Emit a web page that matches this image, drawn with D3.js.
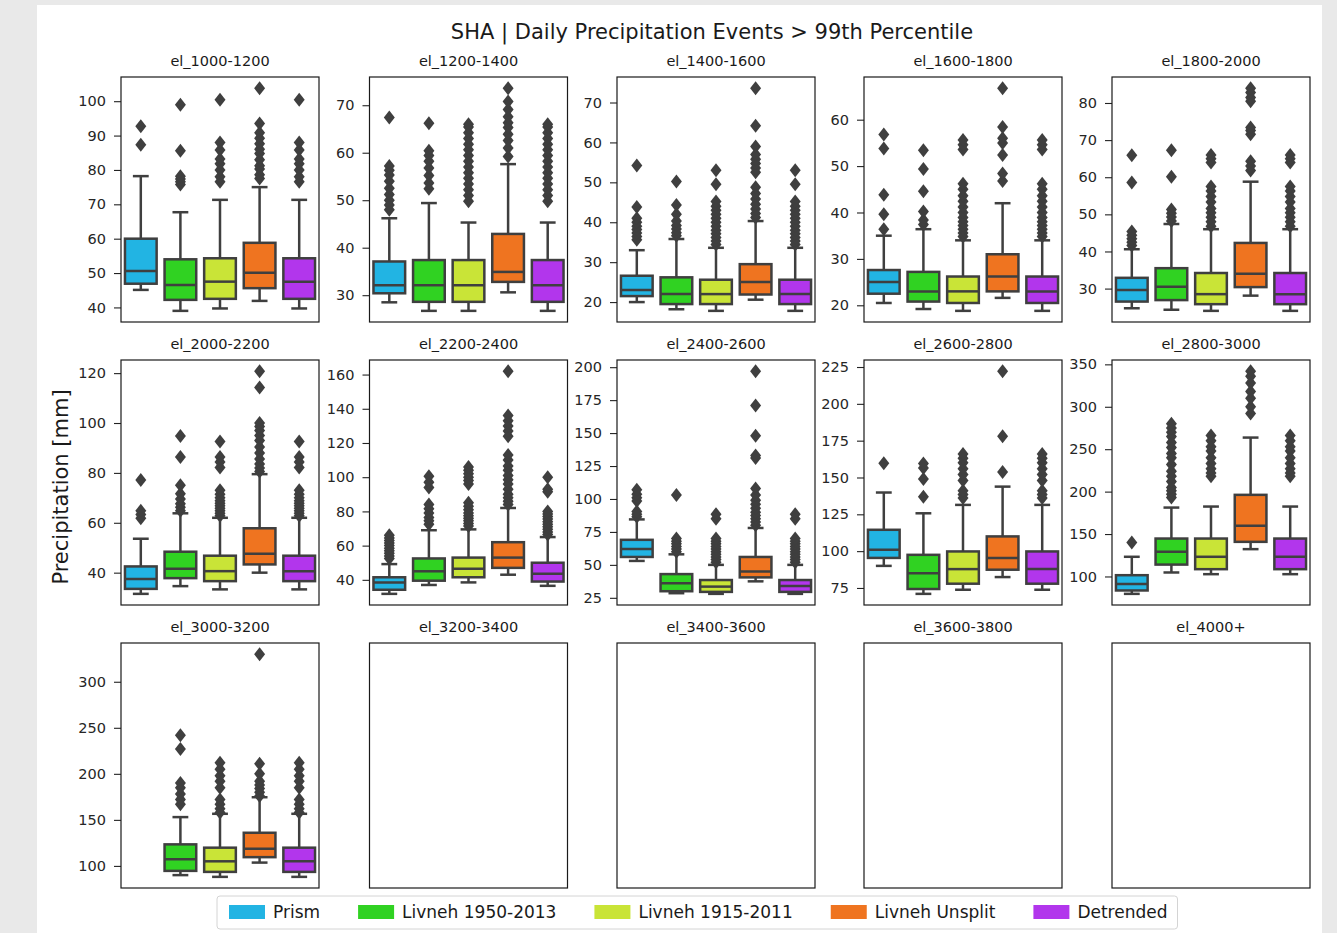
<!DOCTYPE html>
<html>
<head>
<meta charset="utf-8">
<script src="https://cdn.jsdelivr.net/npm/d3@7"></script>
<style>
  body { margin: 0; background: #e9e9e9; font-family: "DejaVu Sans", sans-serif; }
</style>
</head>
<body>
<svg id="chart" width="1337" height="933"></svg>
<script>
// Series, colours, panel titles
const seriesNames = ["Prism", "Livneh 1950-2013", "Livneh 1915-2011", "Livneh Unsplit", "Detrended"];
const seriesColors = ["#22b4e3", "#30d222", "#c9e437", "#ef7420", "#b236ec"];
const panelTitles = ["el_1000-1200", "el_1200-1400", "el_1400-1600", "el_1600-1800", "el_1800-2000",
  "el_2000-2200", "el_2200-2400", "el_2400-2600", "el_2600-2800", "el_2800-3000",
  "el_3000-3200", "el_3200-3400", "el_3400-3600", "el_3600-3800", "el_4000+"];

// Box stats per series: [whisker low, q1, median, q3, whisker high]
const box_1000_1200 = [[45.1, 46.9, 50.6, 60.0, 78.2], [39.0, 42.2, 46.5, 54.0, 67.7], [39.7, 42.5, 47.5, 54.3, 71.3], [41.9, 45.6, 50.1, 58.8, 75.0], [39.7, 42.5, 47.5, 54.3, 71.3]];
const fliers_1000_1200 = [[87.3, 92.7], [75.8, 76.6, 77.4, 78.2, 85.6, 99.0], [76.6, 78.0, 80.0, 81.8, 83.2, 85.8, 88.0, 100.4], [77.5, 78.6, 80.3, 81.2, 83.0, 84.8, 86.0, 87.6, 89.2, 90.8, 93.5, 103.8], [76.6, 78.0, 80.0, 81.8, 83.2, 85.8, 88.0, 100.4]];
const ticks_1000_1200 = [40, 50, 60, 70, 80, 90, 100];

const box_1200_1400 = [[28.5, 30.4, 32.1, 37.1, 46.2], [26.7, 28.6, 32.1, 37.4, 49.4], [26.7, 28.6, 32.1, 37.4, 45.3], [30.6, 32.8, 34.9, 42.9, 57.6], [26.7, 28.6, 32.1, 37.4, 45.3]];
const fliers_1200_1400 = [[48.0, 49.0, 50.0, 51.2, 52.5, 54.0, 55.3, 56.3, 57.2, 67.4], [52.4, 53.6, 55.2, 56.8, 58.2, 59.4, 60.4, 66.2], [49.8, 51.0, 52.2, 53.4, 54.6, 55.8, 57.0, 58.2, 59.4, 60.6, 61.8, 63.0, 64.2, 65.4, 66.0], [59.2, 61.0, 62.6, 63.9, 65.3, 66.3, 67.6, 69.1, 70.8, 73.6], [49.8, 51.0, 52.2, 53.4, 54.6, 55.8, 57.0, 58.2, 59.4, 60.6, 61.8, 63.0, 64.2, 65.4, 66.0]];
const ticks_1200_1400 = [30, 40, 50, 60, 70];

const box_1400_1600 = [[20.0, 21.5, 23.0, 26.6, 33.0], [18.2, 19.5, 22.0, 26.2, 35.8], [17.8, 19.5, 22.0, 25.6, 33.6], [20.6, 21.9, 25.0, 29.5, 40.3], [17.8, 19.5, 22.0, 25.6, 33.6]];
const fliers_1400_1600 = [[35.6, 36.4, 37.3, 38.2, 39.0, 40.0, 41.0, 43.8, 54.2], [36.6, 37.4, 38.3, 39.2, 40.3, 42.0, 44.3, 50.2], [34.4, 35.3, 36.2, 37.1, 38.0, 39.0, 40.0, 41.0, 42.0, 43.0, 44.0, 45.2, 49.5, 53.0], [41.2, 42.2, 43.3, 44.5, 45.8, 47.2, 48.8, 52.5, 53.6, 54.7, 55.8, 57.0, 59.0, 64.2, 73.6], [34.4, 35.3, 36.2, 37.1, 38.0, 39.0, 40.0, 41.0, 42.0, 43.0, 44.0, 45.2, 49.5, 53.0]];
const ticks_1400_1600 = [20, 30, 40, 50, 60, 70];

const box_1600_1800 = [[20.5, 22.5, 25.0, 27.6, 35.0], [19.2, 20.8, 23.0, 27.2, 36.4], [18.8, 20.5, 23.0, 26.2, 34.0], [21.6, 23.0, 26.2, 31.0, 42.0], [18.8, 20.5, 23.0, 26.2, 34.0]];
const fliers_1600_1800 = [[36.4, 39.6, 43.8, 53.8, 56.8], [37.4, 38.4, 40.2, 44.6, 49.4, 53.4], [34.8, 35.6, 36.4, 37.2, 38.0, 38.9, 40.0, 41.2, 42.4, 43.6, 45.0, 46.2, 53.6, 54.6, 55.6], [46.8, 48.4, 52.4, 55.0, 56.0, 58.4, 66.8], [34.8, 35.6, 36.4, 37.2, 38.0, 38.9, 40.0, 41.2, 42.4, 43.6, 45.0, 46.2, 53.6, 54.6, 55.6]];
const ticks_1600_1800 = [20, 30, 40, 50, 60];

const box_1800_2000 = [[24.7, 26.5, 29.6, 32.9, 40.6], [24.3, 26.9, 30.5, 35.5, 47.4], [24.0, 25.8, 28.5, 34.2, 46.0], [28.1, 30.4, 34.0, 42.3, 58.8], [24.0, 25.8, 28.5, 34.2, 46.0]];
const fliers_1800_2000 = [[41.6, 42.5, 43.4, 44.4, 45.4, 58.6, 65.9], [48.2, 49.3, 50.3, 51.3, 60.1, 67.3], [46.8, 48.0, 49.2, 50.4, 51.6, 53.3, 54.8, 56.3, 57.5, 64.0, 65.0, 66.0], [61.8, 63.0, 64.3, 71.6, 72.6, 73.4, 80.5, 81.5, 82.8, 84.0], [46.8, 48.0, 49.2, 50.4, 51.6, 53.3, 54.8, 56.3, 57.5, 64.0, 65.0, 66.0]];
const ticks_1800_2000 = [30, 40, 50, 60, 70, 80];

const box_2000_2200 = [[31.5, 33.5, 37.5, 42.5, 53.6], [34.6, 37.8, 41.6, 48.4, 63.8], [33.3, 36.6, 40.6, 46.8, 62.0], [40.0, 43.3, 47.6, 57.8, 79.5], [33.3, 36.6, 40.6, 46.8, 62.0]];
const fliers_2000_2200 = [[61.8, 63.3, 64.8, 77.2], [64.8, 66.2, 67.6, 69.5, 71.6, 75.0, 86.4, 94.8], [62.8, 63.8, 64.8, 65.8, 66.8, 67.8, 68.8, 70.0, 71.4, 73.0, 82.2, 84.4, 86.4, 92.6], [80.6, 82.0, 83.6, 85.6, 88.0, 90.4, 93.0, 95.0, 97.0, 98.6, 100.0, 114.2, 120.8], [62.8, 63.8, 64.8, 65.8, 66.8, 67.8, 68.8, 70.0, 71.4, 73.0, 82.2, 84.4, 86.4, 92.6]];
const ticks_2000_2200 = [40, 60, 80, 100, 120];

const box_2200_2400 = [[31.8, 34.2, 38.5, 41.5, 49.2], [37.0, 39.5, 45.0, 52.5, 69.0], [38.5, 41.5, 46.5, 53.0, 69.5], [43.0, 47.0, 53.0, 62.0, 82.0], [36.5, 39.0, 43.5, 50.0, 65.0]];
const fliers_2200_2400 = [[52.5, 54.0, 55.5, 57.0, 58.5, 60.0, 61.5, 63.0, 64.5, 66.0], [72.5, 74.5, 76.5, 79.0, 81.5, 84.0, 94.0, 97.0, 100.5], [71.5, 73.0, 74.5, 76.0, 77.5, 79.0, 81.0, 83.0, 85.0, 96.0, 98.0, 100.0, 102.0, 104.0, 106.0], [84, 86, 88, 90, 93, 96, 98.5, 101, 104, 106.5, 110, 113, 124, 127, 130, 133, 136, 162], [66.5, 68, 69.5, 71, 72.5, 74, 75.5, 77, 78.5, 80, 91.5, 93, 100]];
const ticks_2200_2400 = [40, 60, 80, 100, 120, 140, 160];

const box_2400_2600 = [[53.0, 56.0, 62.0, 69.0, 84.5], [28.5, 30.0, 36.0, 43.0, 58.0], [28.0, 29.5, 33.5, 38.5, 50.0], [37.5, 40.5, 45.0, 56.0, 78.0], [28.0, 29.5, 34.0, 38.5, 50.0]];
const fliers_2400_2600 = [[86.5, 88.5, 90.5, 98.5, 101, 103.5, 107], [60, 62, 64, 66, 68, 70, 103], [52, 54, 56, 58, 60, 62, 64, 66, 68, 70, 85, 88.5], [80, 82.5, 85, 87.5, 90, 93, 96, 99, 103, 108, 131, 133, 148, 171, 197], [52, 54, 56, 58, 60, 62, 64, 66, 68, 70, 85, 88.5]];
const ticks_2400_2600 = [25, 50, 75, 100, 125, 150, 175, 200];

const box_2600_2800 = [[90.0, 95.4, 101.0, 114.5, 139.8], [71.0, 74.3, 85.0, 97.5, 125.7], [73.8, 77.9, 87.8, 99.8, 131.4], [82.4, 87.4, 95.3, 110.0, 143.8], [73.8, 77.9, 87.8, 99.8, 131.4]];
const fliers_2600_2800 = [[159.6], [137.0, 149.0, 156.5, 159.5], [136.0, 138.5, 141.0, 148.0, 152.0, 156.0, 160.0, 163.0, 166.0], [153.8, 178.0, 222.2], [136.0, 138.5, 141.0, 148.0, 152.0, 156.0, 160.0, 163.0, 166.0]];
const ticks_2600_2800 = [75, 100, 125, 150, 175, 200, 225];

const box_2800_3000 = [[79.5, 83.5, 91.0, 101.5, 123.2], [104.7, 114.0, 129.0, 144.7, 181.2], [102.7, 108.6, 123.2, 144.7, 182.4], [132.2, 140.8, 159.7, 196.2, 263.7], [102.7, 108.6, 123.2, 144.7, 182.4]];
const fliers_2800_3000 = [[140.0], [193, 197, 201, 205, 212, 218, 224, 232, 240, 245, 252, 258, 265, 270, 275, 280], [218, 222, 227, 233, 240, 248, 253, 260, 266], [292, 300, 310, 318, 328, 336, 342], [218, 222, 227, 233, 240, 248, 253, 260, 266]];
const ticks_2800_3000 = [100, 150, 200, 250, 300, 350];

const box_3000_3200 = [null, [90.0, 94.6, 107.2, 123.4, 153.0], [88.1, 93.5, 105.0, 119.8, 156.6], [103.6, 109.5, 118.7, 136.0, 174.6], [88.1, 93.5, 105.0, 119.8, 156.6]];
const fliers_3000_3200 = [[], [167, 172, 178, 185, 190, 227, 242], [158, 162, 167, 172, 185, 192, 198, 205, 212], [176, 180, 184, 188, 192, 200, 211, 330], [158, 162, 167, 172, 185, 192, 198, 205, 212]];
const ticks_3000_3200 = [100, 150, 200, 250, 300];

const panelBoxes = [box_1000_1200, box_1200_1400, box_1400_1600, box_1600_1800, box_1800_2000,
  box_2000_2200, box_2200_2400, box_2400_2600, box_2600_2800, box_2800_3000, box_3000_3200];
const panelFliers = [fliers_1000_1200, fliers_1200_1400, fliers_1400_1600, fliers_1600_1800, fliers_1800_2000,
  fliers_2000_2200, fliers_2200_2400, fliers_2400_2600, fliers_2600_2800, fliers_2800_3000, fliers_3000_3200];
const panelTicks = [ticks_1000_1200, ticks_1200_1400, ticks_1400_1600, ticks_1600_1800, ticks_1800_2000,
  ticks_2000_2200, ticks_2200_2400, ticks_2400_2600, ticks_2600_2800, ticks_2800_3000, ticks_3000_3200];

// Layout
const svg = d3.select("#chart");
const colX = [121, 369.5, 617, 864, 1112];
const rowY = [77, 360, 643];
const pw = 198, ph = 245;
const lineGray = "#3f3f3f";

svg.append("rect")
  .attr("x", 37).attr("y", 5)
  .attr("width", 1285).attr("height", 928)
  .attr("fill", "#ffffff");

// Title and shared y label
svg.append("text")
  .attr("x", 712).attr("y", 39)
  .attr("text-anchor", "middle")
  .attr("font-size", "21px")
  .attr("fill", "#1a1a1a")
  .text("SHA | Daily Precipitation Events > 99th Percentile");

svg.append("text")
  .attr("transform", "translate(68,487) rotate(-90)")
  .attr("text-anchor", "middle")
  .attr("font-size", "21px")
  .attr("fill", "#1a1a1a")
  .text("Precipitation [mm]");

// diamond flier marker
const diamond = d3.path();
diamond.moveTo(0, -7); diamond.lineTo(5.5, 0); diamond.lineTo(0, 7); diamond.lineTo(-5.5, 0); diamond.closePath();

panelTitles.forEach((title, i) => {
  const g = svg.append("g")
    .attr("transform", `translate(${colX[i % 5]},${rowY[Math.floor(i / 5)]})`);

  g.append("text")
    .attr("x", pw / 2).attr("y", -11)
    .attr("text-anchor", "middle")
    .attr("font-size", "14.5px")
    .attr("fill", "#1a1a1a")
    .text(title);

  const boxes = panelBoxes[i];
  if (boxes) {
    const fliers = panelFliers[i];
    const all = boxes.flatMap((b, k) => b ? b.concat(fliers[k]) : []);
    const [lo, hi] = d3.extent(all);
    const pad = (hi - lo) * 0.05;

    const y = d3.scaleLinear().domain([lo - pad, hi + pad]).range([ph, 0]);
    const x = d3.scaleLinear().domain([-0.5, 4.5]).range([0, pw]);
    const bw = (x(1) - x(0)) * 0.8;
    const cw = bw * 0.5;

    const axis = g.append("g")
      .call(d3.axisLeft(y).tickValues(panelTicks[i]).tickSize(7).tickPadding(8));
    axis.select(".domain").remove();
    axis.selectAll(".tick line").attr("stroke", "#222").attr("stroke-width", 1.1);
    axis.selectAll(".tick text")
      .attr("font-size", "14.5px")
      .attr("font-family", "DejaVu Sans, sans-serif")
      .attr("fill", "#262626");

    boxes.forEach((b, k) => {
      if (!b) return;
      const [wl, q1, med, q3, wh] = b;
      const cx = x(k);
      const bg = g.append("g");

      // whiskers
      bg.selectAll("line.whisker")
        .data([[wl, q1], [q3, wh]])
        .join("line")
        .attr("class", "whisker")
        .attr("x1", cx).attr("x2", cx)
        .attr("y1", d => y(d[0])).attr("y2", d => y(d[1]))
        .attr("stroke", lineGray).attr("stroke-width", 2.5);

      // caps
      bg.selectAll("line.cap")
        .data([wl, wh])
        .join("line")
        .attr("class", "cap")
        .attr("x1", cx - cw / 2).attr("x2", cx + cw / 2)
        .attr("y1", d => y(d)).attr("y2", d => y(d))
        .attr("stroke", lineGray).attr("stroke-width", 2.5);

      // box
      bg.append("rect")
        .attr("x", cx - bw / 2).attr("width", bw)
        .attr("y", y(q3)).attr("height", y(q1) - y(q3))
        .attr("fill", seriesColors[k])
        .attr("stroke", lineGray).attr("stroke-width", 2.5);

      // median
      bg.append("line")
        .attr("x1", cx - bw / 2).attr("x2", cx + bw / 2)
        .attr("y1", y(med)).attr("y2", y(med))
        .attr("stroke", lineGray).attr("stroke-width", 2.5);

      // fliers
      bg.selectAll("path.flier")
        .data(fliers[k])
        .join("path")
        .attr("class", "flier")
        .attr("d", diamond.toString())
        .attr("transform", d => `translate(${cx},${y(d)})`)
        .attr("fill", lineGray);
    });
  }

  // frame
  g.append("rect")
    .attr("width", pw).attr("height", ph)
    .attr("fill", "none")
    .attr("stroke", "#1a1a1a").attr("stroke-width", 1.2);
});

// Legend
const legend = svg.append("g").attr("transform", "translate(217,896)");
const legendBox = legend.append("rect")
  .attr("height", 33).attr("rx", 3)
  .attr("fill", "#ffffff").attr("stroke", "#d4d4d4").attr("stroke-width", 1);

let cursor = 12;
seriesNames.forEach((name, k) => {
  legend.append("rect")
    .attr("x", cursor).attr("y", 9)
    .attr("width", 36).attr("height", 14)
    .attr("fill", seriesColors[k]);
  const t = legend.append("text")
    .attr("x", cursor + 44).attr("y", 22)
    .attr("font-size", "17px")
    .attr("fill", "#1a1a1a")
    .text(name);
  cursor += 44 + t.node().getComputedTextLength() + 38;
});
legendBox.attr("width", cursor - 28);
</script>
</body>
</html>
